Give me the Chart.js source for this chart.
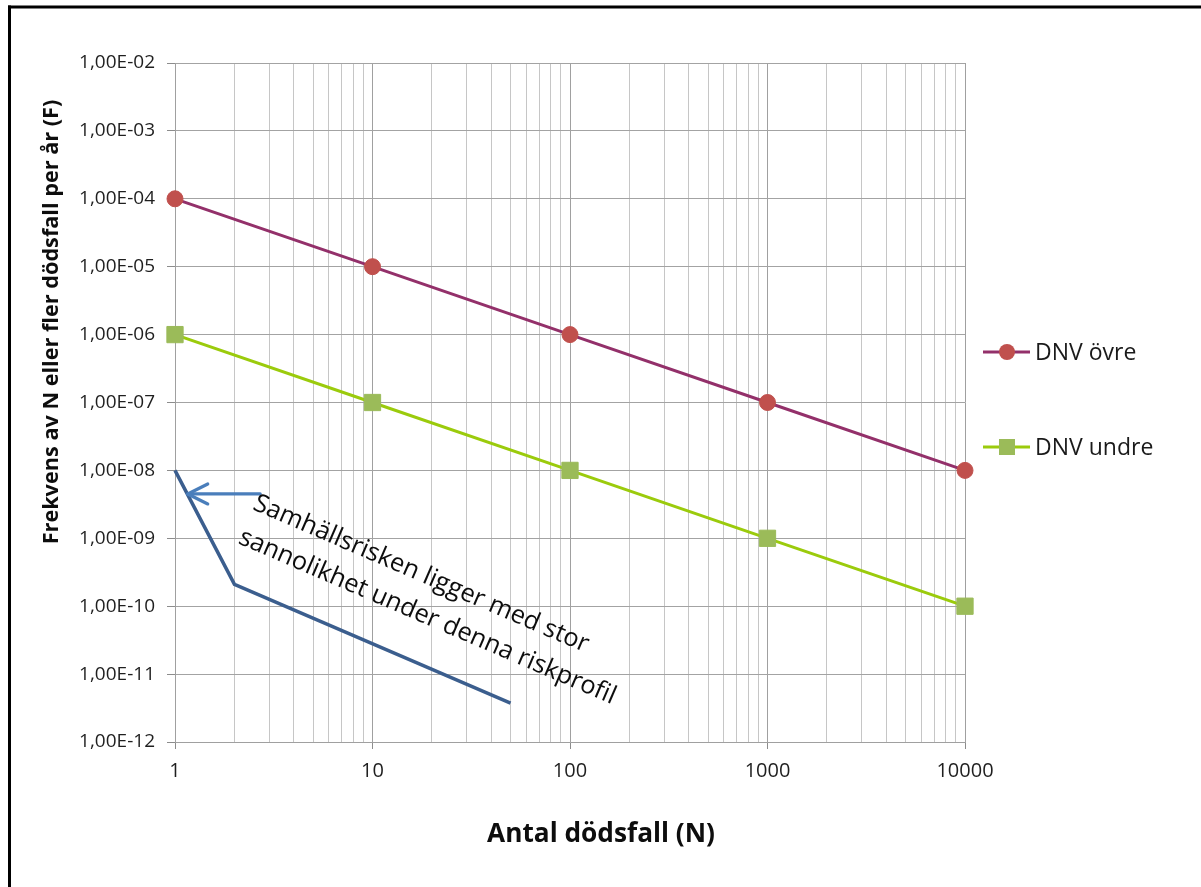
<!DOCTYPE html>
<html>
<head>
<meta charset="utf-8">
<script src="https://cdn.jsdelivr.net/npm/chart.js@4.4.1/dist/chart.umd.min.js"></script>
<style>
  html, body { margin: 0; padding: 0; background: #ffffff; }
  #wrap { width: 1201px; height: 887px; position: relative; }
</style>
</head>
<body>
<div id="wrap"><canvas id="c" width="1201" height="887"></canvas></div>
<script>
// ---------- data ----------
const deathsN = [1, 10, 100, 1000, 10000];
const dnvOvre = [1e-4, 1e-5, 1e-6, 1e-7, 1e-8];
const dnvUndre = [1e-6, 1e-7, 1e-8, 1e-9, 1e-10];
const riskN = [1, 2, 50];
const riskF = [1e-8, 2.1e-10, 3.75e-12];
const seriesNames = ['DNV övre', 'DNV undre'];

const xTickValues = [1, 10, 100, 1000, 10000];
const xTickLabels = ['1', '10', '100', '1000', '10000'];
const yTickValues = [1e-2, 1e-3, 1e-4, 1e-5, 1e-6, 1e-7, 1e-8, 1e-9, 1e-10, 1e-11, 1e-12];
const yTickLabels = ['1,00E-02', '1,00E-03', '1,00E-04', '1,00E-05', '1,00E-06', '1,00E-07',
                     '1,00E-08', '1,00E-09', '1,00E-10', '1,00E-11', '1,00E-12'];

const xTitle = 'Antal dödsfall (N)';
const yTitle = 'Frekvens av N eller fler dödsfall per år (F)';
const noteLines = ['Samhällsrisken ligger med stor', 'sannolikhet under denna riskprofil'];
const noteAnchor = { n: 2.45, f: 2.7e-9 };
const arrowN = [2.7, 1.16];
const arrowF = 4.5e-9;

// ---------- helpers ----------
const FONT = '"Open Sans", "Liberation Sans", sans-serif';
const isMajorX = v => xTickValues.some(t => Math.abs(t - v) < 1e-9);
function minorXTicks() {
  const out = [];
  for (let i = 0; i < xTickValues.length - 1; i++) {
    const base = xTickValues[i];
    for (let m = 1; m < 10; m++) out.push(base * m);
  }
  out.push(xTickValues[xTickValues.length - 1]);
  return out;
}
function fitSize(ctx, text, target, weight) {
  ctx.font = `${weight} 100px ${FONT}`;
  return 100 * target / ctx.measureText(text).width;
}

const PURPLE = '#93306A', RED = '#C0504D', LIME = '#9BCB0C', GREEN = '#9BBB59',
      BLUE = '#3B5E8E', ARROW = '#4A7EBB';

const overlay = {
  id: 'overlay',
  afterDatasetsDraw(chart) {
    const ctx = chart.ctx, xs = chart.scales.x, ys = chart.scales.y;
    // arrow
    const ax0 = xs.getPixelForValue(arrowN[0]), ax1 = xs.getPixelForValue(arrowN[1]);
    const ay = ys.getPixelForValue(arrowF);
    ctx.save();
    ctx.strokeStyle = ARROW; ctx.lineWidth = 3.2; ctx.lineCap = 'round'; ctx.lineJoin = 'round';
    ctx.beginPath(); ctx.moveTo(ax0, ay); ctx.lineTo(ax1, ay); ctx.stroke();
    ctx.beginPath(); ctx.moveTo(ax1 + 20, ay - 10); ctx.lineTo(ax1, ay); ctx.lineTo(ax1 + 20, ay + 10); ctx.stroke();
    ctx.restore();
    // rotated note
    const px = xs.getPixelForValue(noteAnchor.n), py = ys.getPixelForValue(noteAnchor.f);
    const size = fitSize(ctx, noteLines[1], 408, 'normal');
    ctx.save();
    ctx.translate(px, py);
    ctx.rotate(23.3 * Math.PI / 180);
    ctx.font = `normal ${size}px ${FONT}`;
    ctx.fillStyle = '#0d0d0d';
    ctx.textAlign = 'left'; ctx.textBaseline = 'alphabetic';
    ctx.fillText(noteLines[0], 0, 0);
    ctx.fillText(noteLines[1], 0, 37);
    ctx.restore();
  },
  afterDraw(chart) {
    const ctx = chart.ctx, area = chart.chartArea;
    // titles
    ctx.save();
    ctx.fillStyle = '#0d0d0d';
    let s = fitSize(ctx, xTitle, 228, 'bold');
    ctx.font = `bold ${s}px ${FONT}`;
    ctx.textAlign = 'center'; ctx.textBaseline = 'alphabetic';
    ctx.fillText(xTitle, 601, 842);
    s = fitSize(ctx, yTitle, 445, 'bold');
    ctx.font = `bold ${s}px ${FONT}`;
    ctx.translate(58, 322);
    ctx.rotate(-Math.PI / 2);
    ctx.fillText(yTitle, 0, 0);
    ctx.restore();
    // legend
    const items = [
      { line: PURPLE, fill: RED, shape: 'circle', y: area.top + 289 },
      { line: LIME, fill: GREEN, shape: 'rect', y: area.top + 384 }
    ];
    ctx.save();
    items.forEach((it, i) => {
      const x0 = area.right + 18;
      ctx.strokeStyle = it.line; ctx.lineWidth = 3;
      ctx.beginPath(); ctx.moveTo(x0, it.y); ctx.lineTo(x0 + 47, it.y); ctx.stroke();
      ctx.fillStyle = it.fill;
      if (it.shape === 'circle') {
        ctx.beginPath(); ctx.arc(x0 + 24, it.y, 8, 0, Math.PI * 2); ctx.fill();
      } else {
        ctx.fillRect(x0 + 16, it.y - 8, 16, 16);
      }
      ctx.fillStyle = '#1a1a1a';
      ctx.font = `normal 23px ${FONT}`;
      ctx.textAlign = 'left'; ctx.textBaseline = 'middle';
      ctx.fillText(seriesNames[i], x0 + 52, it.y + 1);
    });
    ctx.restore();
    // outer frame (top and left)
    ctx.save();
    ctx.fillStyle = '#000';
    ctx.fillRect(8, 5.5, 1193, 3);
    ctx.fillRect(8, 5.5, 3, 882);
    ctx.restore();
  }
};

new Chart(document.getElementById('c'), {
  type: 'line',
  data: {
    datasets: [
      {
        label: 'risk',
        data: riskN.map((n, i) => ({ x: n, y: riskF[i] })),
        borderColor: BLUE, borderWidth: 3.5, pointRadius: 0, tension: 0, clip: false, order: 3
      },
      {
        label: seriesNames[0],
        data: deathsN.map((n, i) => ({ x: n, y: dnvOvre[i] })),
        borderColor: PURPLE, borderWidth: 3, tension: 0, clip: false,
        pointStyle: 'circle', pointRadius: 8, pointBackgroundColor: RED, pointBorderColor: RED, pointBorderWidth: 1, order: 1
      },
      {
        label: seriesNames[1],
        data: deathsN.map((n, i) => ({ x: n, y: dnvUndre[i] })),
        borderColor: LIME, borderWidth: 3, tension: 0, clip: false,
        pointStyle: 'rect', pointRadius: 11.5, pointBackgroundColor: GREEN, pointBorderColor: GREEN, pointBorderWidth: 1, order: 2
      }
    ]
  },
  options: {
    responsive: false,
    animation: false,
    devicePixelRatio: 1,
    layout: { padding: { left: 0, top: 63, right: 236, bottom: 0 } },
    plugins: { legend: { display: false }, tooltip: { enabled: false } },
    scales: {
      x: {
        type: 'logarithmic',
        min: 1, max: 10000,
        afterBuildTicks: sc => { sc.ticks = minorXTicks().map(v => ({ value: v })); },
        afterFit: sc => { sc.height = 145; },
        ticks: {
          autoSkip: false, maxRotation: 0, minRotation: 0, padding: 10,
          color: '#1f1f1f', font: { family: FONT, size: 20 },
          callback: v => { const i = xTickValues.findIndex(t => Math.abs(t - v) < 1e-9); return i >= 0 ? xTickLabels[i] : ''; }
        },
        grid: {
          color: c => (c.tick && isMajorX(c.tick.value)) ? '#a0a0a0' : '#c6c6c6',
          tickColor: c => (c.tick && isMajorX(c.tick.value)) ? '#8c8c8c' : 'rgba(0,0,0,0)',
          tickLength: 7, lineWidth: 1
        },
        border: { color: '#a0a0a0', width: 1 }
      },
      y: {
        type: 'logarithmic',
        min: 1e-12, max: 1e-2,
        afterBuildTicks: sc => { sc.ticks = yTickValues.map(v => ({ value: v })); },
        afterFit: sc => { sc.width = 175; },
        ticks: {
          autoSkip: false, padding: 12,
          color: '#1f1f1f', font: { family: FONT, size: 19 },
          callback: v => { const i = yTickValues.findIndex(t => Math.abs(Math.log10(t) - Math.log10(v)) < 1e-6); return i >= 0 ? yTickLabels[i] : ''; }
        },
        grid: { color: '#a3a3a3', tickColor: '#8c8c8c', tickLength: 8, lineWidth: 1 },
        border: { color: '#a0a0a0', width: 1 }
      }
    }
  },
  plugins: [overlay]
});
</script>
</body>
</html>
